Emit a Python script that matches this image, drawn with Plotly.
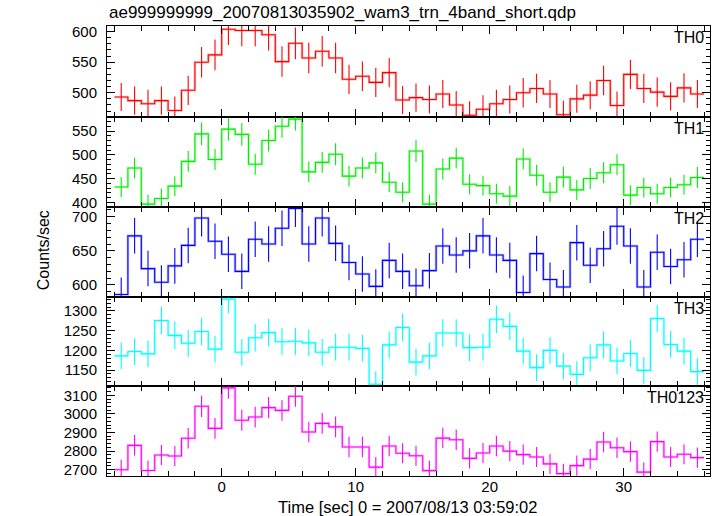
import plotly.graph_objects as go
from plotly.subplots import make_subplots

# ---------------- data ----------------
time_sec = [-7.5, -6.5, -5.5, -4.5, -3.5, -2.5, -1.5, -0.5, 0.5, 1.5,
            2.5, 3.5, 4.5, 5.5, 6.5, 7.5, 8.5, 9.5, 10.5, 11.5,
            12.5, 13.5, 14.5, 15.5, 16.5, 17.5, 18.5, 19.5, 20.5, 21.5,
            22.5, 23.5, 24.5, 25.5, 26.5, 27.5, 28.5, 29.5, 30.5, 31.5,
            32.5, 33.5, 34.5, 35.5]
bin_width = 1.0

th0 = [493, 487, 482, 487, 471, 504, 550, 562, 604, 602,
       602, 595, 551, 581, 557, 568, 557, 522, 527, 517,
       533, 488, 492, 489, 498, 480, 463, 473, 482, 489,
       500, 507, 498, 464, 490, 496, 520, 479, 530, 507,
       501, 494, 508, 498]
th0_err = [23, 23, 23, 23, 23, 24, 25, 25, 26, 26,
           26, 26, 25, 26, 25, 25, 25, 24, 24, 24,
           24, 23, 23, 23, 23, 23, 23, 23, 23, 23,
           24, 24, 23, 23, 23, 23, 24, 23, 24, 24,
           24, 23, 24, 23]

th1 = [432, 472, 396, 408, 434, 486, 544, 490, 554, 543,
       480, 530, 560, 575, 464, 484, 501, 455, 472, 483,
       442, 421, 508, 396, 470, 493, 438, 435, 418, 413,
       491, 457, 421, 453, 426, 450, 462, 479, 415, 431,
       418, 431, 437, 452]
th1_err = [21, 22, 20, 21, 21, 22, 24, 22, 24, 24,
           22, 23, 24, 24, 22, 22, 23, 22, 22, 22,
           21, 21, 23, 20, 22, 22, 21, 21, 21, 21,
           22, 22, 21, 22, 21, 22, 22, 22, 21, 21,
           21, 21, 21, 22]

th2 = [586, 672, 624, 604, 628, 658, 698, 664, 645, 620,
       667, 660, 683, 712, 660, 698, 661, 633, 616, 598,
       636, 620, 599, 621, 657, 644, 650, 672, 644, 636,
       589, 646, 608, 597, 662, 629, 653, 686, 657, 597,
       648, 627, 637, 667]
th2_err = [25, 26, 26, 25, 26, 26, 27, 26, 26, 26,
           26, 26, 26, 27, 26, 27, 26, 26, 26, 25,
           26, 26, 25, 26, 26, 26, 26, 26, 26, 26,
           25, 26, 25, 25, 26, 26, 26, 27, 26, 25,
           26, 26, 26, 26]

th3 = [1186, 1197, 1191, 1276, 1238, 1218, 1248, 1203, 1330, 1195,
       1232, 1245, 1222, 1223, 1219, 1195, 1208, 1208, 1205, 1114,
       1214, 1258, 1170, 1186, 1244, 1244, 1207, 1208, 1279, 1261,
       1198, 1156, 1200, 1160, 1139, 1181, 1214, 1173, 1192, 1149,
       1281, 1215, 1198, 1146]
th3_err = [34, 34, 34, 35, 35, 34, 35, 34, 36, 34,
           35, 35, 34, 34, 34, 34, 34, 34, 34, 33,
           34, 35, 34, 34, 35, 35, 34, 34, 35, 35,
           34, 34, 34, 34, 33, 34, 34, 34, 34, 34,
           35, 34, 34, 34]

th0123 = [2700, 2831, 2696, 2779, 2774, 2869, 3041, 2922, 3140, 2966,
          2983, 3034, 3019, 3095, 2903, 2949, 2930, 2822, 2822, 2714,
          2827, 2788, 2775, 2695, 2870, 2861, 2761, 2790, 2827, 2800,
          2781, 2768, 2731, 2679, 2722, 2757, 2849, 2818, 2797, 2687,
          2851, 2768, 2783, 2765]
th0123_err = [53, 55, 53, 54, 54, 55, 57, 56, 58, 56,
              56, 57, 56, 57, 55, 56, 56, 55, 55, 54,
              55, 54, 54, 53, 55, 55, 54, 54, 55, 54,
              54, 54, 54, 53, 54, 54, 55, 55, 54, 53,
              55, 54, 54, 54]

panel_names = ["TH0", "TH1", "TH2", "TH3", "TH0123"]
panel_values = [th0, th1, th2, th3, th0123]
panel_errors = [th0_err, th1_err, th2_err, th3_err, th0123_err]
panel_colors = ["#ff0000", "#00ee00", "#0000ff", "#00ffff", "#ff00ff"]
panel_under = ["rgba(255,0,0,0.25)", "rgba(0,238,0,0.25)", "rgba(0,0,255,0.25)",
               "rgba(0,255,255,0.25)", "rgba(255,0,255,0.25)"]

# ---------------- layout constants ----------------
y_ranges = [[460.7, 609.3], [389.0, 580.1], [581.7, 713.5], [1108.6, 1334.3], [2666.0, 3148.4]]
y_dticks = [50, 50, 50, 50, 100]
y_minor = [10, 10, 10, 10, 20]
y_domains = [[0.7984, 1.0], [0.5967, 0.7984], [0.3967, 0.5967], [0.1993, 0.3967], [0.0, 0.1993]]
x_range = [-8.56, 36.44]

FONT = "Liberation Sans, Arial, Helvetica, sans-serif"

fig = make_subplots(rows=5, cols=1, shared_xaxes=True, vertical_spacing=0)

edges = [t - bin_width / 2 for t in time_sec] + [time_sec[-1] + bin_width / 2]

for i in range(5):
    vals = panel_values[i]
    step_y = vals + [vals[-1]]
    fig.add_trace(go.Scatter(x=edges, y=step_y, mode="lines", line_shape="hv",
                             line=dict(color=panel_under[i], width=2.6),
                             hoverinfo="skip", showlegend=False), row=i + 1, col=1)
    fig.add_trace(go.Scatter(x=edges, y=step_y, mode="lines", line_shape="hv",
                             line=dict(color=panel_colors[i], width=1.1),
                             showlegend=False), row=i + 1, col=1)
    fig.add_trace(go.Scatter(x=time_sec, y=vals, mode="markers",
                             marker=dict(size=1, color="rgba(0,0,0,0)"),
                             error_y=dict(type="data", array=panel_errors[i], visible=True,
                                          width=0, thickness=1.1, color=panel_colors[i]),
                             showlegend=False), row=i + 1, col=1)

axis_common = dict(showline=True, linecolor="black", linewidth=1, mirror="allticks",
                   ticks="inside", tickcolor="black", showgrid=False, zeroline=False,
                   tickfont=dict(family=FONT, size=15, color="black"))

for i in range(5):
    fig.update_xaxes(range=x_range, tick0=0, dtick=10, ticklen=8, tickwidth=1,
                     minor=dict(dtick=2, ticklen=5, ticks="inside", tickcolor="black", showgrid=False),
                     showticklabels=(i == 4), ticklabelstandoff=-3,
                     row=i + 1, col=1, **axis_common)
    fig.update_yaxes(range=y_ranges[i], domain=y_domains[i], dtick=y_dticks[i], ticklen=8,
                     tickwidth=1,
                     minor=dict(dtick=y_minor[i], ticklen=4, ticks="inside", tickcolor="black", showgrid=False),
                     ticklabelstandoff=6,
                     row=i + 1, col=1, **axis_common)

annotations = []
yrefs = ["y", "y2", "y3", "y4", "y5"]
for i in range(5):
    annotations.append(dict(text=panel_names[i], xref="x domain" if i == 0 else f"x{i+1} domain",
                            yref=f"{yrefs[i]} domain", x=0.993, y=1.0, xanchor="right",
                            yanchor="top", yshift=-1, showarrow=False,
                            font=dict(family=FONT, size=16, color="black")))

annotations.append(dict(text="ae999999999_20070813035902_wam3_trn_4band_short.qdp",
                        xref="paper", yref="paper", x=0, y=1.0311, xanchor="left",
                        yanchor="middle", showarrow=False,
                        font=dict(family=FONT, size=17, color="black")))
annotations.append(dict(text="Counts/sec", xref="paper", yref="paper", x=-0.106, y=0.502,
                        xanchor="center", yanchor="middle", textangle=-90, showarrow=False,
                        font=dict(family=FONT, size=16, color="black")))
annotations.append(dict(text="Time [sec] 0 = 2007/08/13 03:59:02", xref="paper", yref="paper",
                        x=0.499, y=-0.0689, xanchor="center", yanchor="middle", showarrow=False,
                        font=dict(family=FONT, size=16.5, color="black")))

fig.update_layout(width=717, height=516, margin=dict(l=107, r=7, t=26, b=40),
                  paper_bgcolor="white", plot_bgcolor="white", showlegend=False,
                  annotations=annotations)

fig.write_html("out.html", config={"displayModeBar": False},
               post_script="document.body.style.margin='0px';document.body.style.overflow='hidden';")
